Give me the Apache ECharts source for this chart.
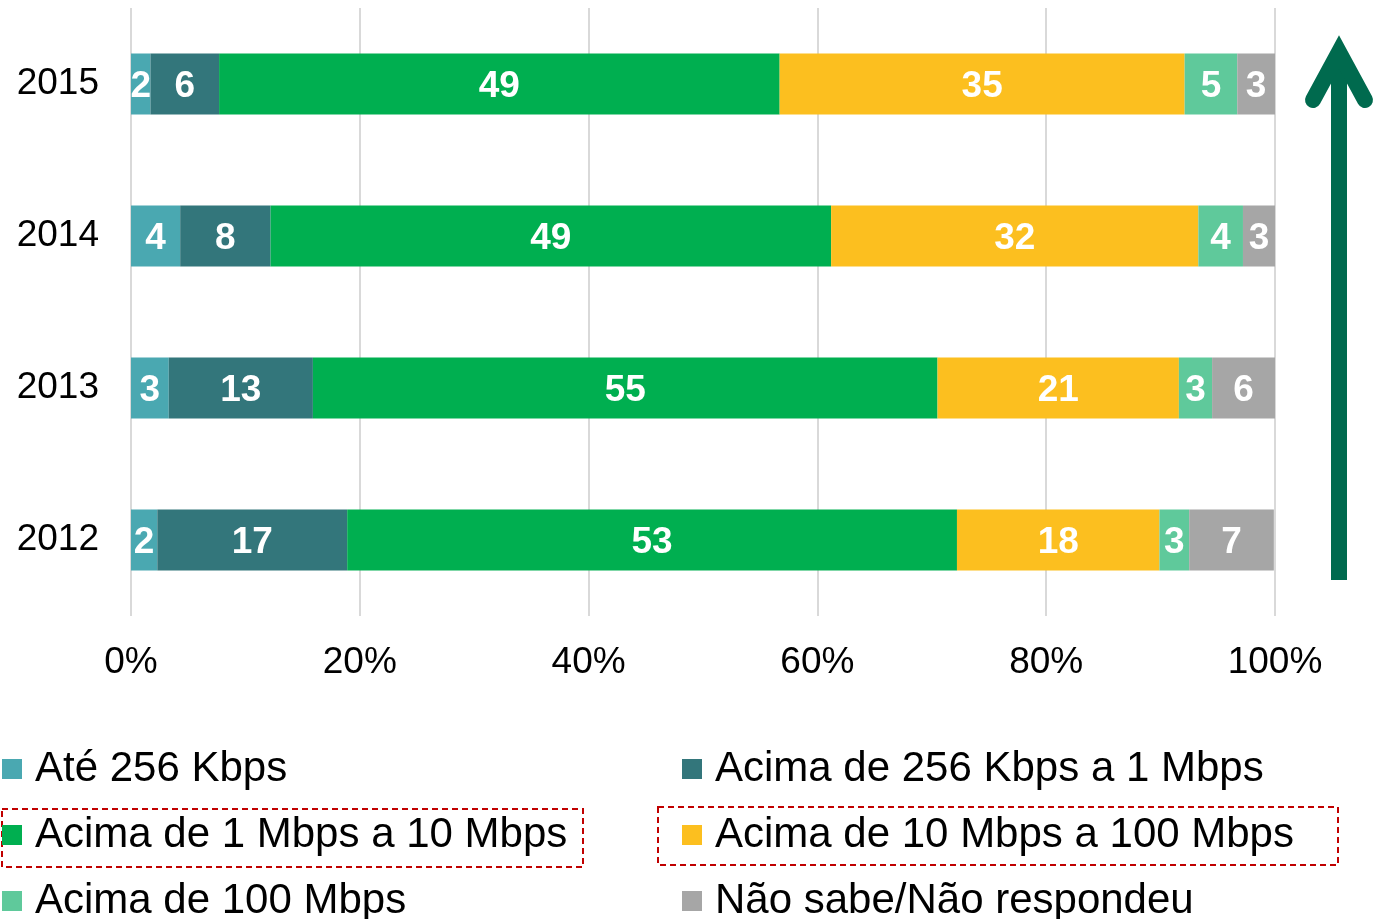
<!DOCTYPE html>
<html>
<head>
<meta charset="utf-8">
<script src="https://cdn.jsdelivr.net/npm/echarts@6/dist/echarts.min.js"></script>
<style>
  html, body { margin: 0; padding: 0; background: #fff; }
  #chart { width: 1379px; height: 919px; }
</style>
</head>
<body>
<div id="chart"></div>
<script>
// years, top to bottom
var years = ['2015', '2014', '2013', '2012'];

// shares (%) per speed band, same order as years
var ate256 = [1.7, 4.3, 3.3, 2.3];
var de256a1 = [6.0, 7.9, 12.6, 16.6];
var de1a10 = [49.0, 49.0, 54.6, 53.3];
var de10a100 = [35.4, 32.1, 21.1, 17.7];
var acima100 = [4.6, 3.9, 2.9, 2.6];
var naoSabe = [3.3, 2.8, 5.5, 7.4];

var bandNames = [
  'Até 256 Kbps',
  'Acima de 256 Kbps a 1 Mbps',
  'Acima de 1 Mbps a 10 Mbps',
  'Acima de 10 Mbps a 100 Mbps',
  'Acima de 100 Mbps',
  'Não sabe/Não respondeu'
];
var bandColors = ['#4aa8b1', '#33767b', '#00af50', '#fcbf1f', '#5fc99b', '#a6a6a6'];
var bandData = [ate256, de256a1, de1a10, de10a100, acima100, naoSabe];

var xTicks = [0, 20, 40, 60, 80, 100];

window.onload = function () {
  var chart = echarts.init(document.getElementById('chart'));
  var font = '"Liberation Sans", Arial, sans-serif';

  var series = bandNames.map(function (name, i) {
    return {
      name: name,
      type: 'bar',
      stack: 'total',
      barWidth: 61,
      color: bandColors[i],
      data: bandData[i],
      label: {
        show: true,
        position: 'inside',
        offset: [0, 3],
        color: '#fff',
        fontFamily: font,
        fontWeight: 'bold',
        fontSize: 37,
        formatter: function (p) { return Math.round(p.value); }
      }
    };
  });

  var legendBase = {
    orient: 'vertical',
    top: 748,
    height: 200,
    padding: 0,
    itemWidth: 20,
    itemHeight: 20,
    itemGap: 24,
    icon: 'rect',
    selectedMode: false,
    textStyle: { fontSize: 42, color: '#000', fontFamily: font, lineHeight: 40, padding: [0, 0, 0, 8] }
  };

  var option = {
    animation: false,
    textStyle: { fontFamily: font },
    grid: {
      left: 131,
      right: 104,
      top: 8,
      bottom: 303
    },
    xAxis: {
      type: 'value',
      min: xTicks[0],
      max: xTicks[xTicks.length - 1],
      interval: 20,
      axisLine: { show: false },
      axisTick: { show: false },
      splitLine: { lineStyle: { color: '#d9d9d9', width: 2 } },
      axisLabel: {
        formatter: '{value}%',
        color: '#000',
        fontSize: 37,
        fontFamily: font,
        margin: 28
      }
    },
    yAxis: {
      type: 'category',
      inverse: true,
      data: years,
      axisLine: { show: false },
      axisTick: { show: false },
      axisLabel: {
        color: '#000',
        fontSize: 37,
        fontFamily: font,
        margin: 32,
        padding: [6, 0, 0, 0]
      }
    },
    legend: [
      Object.assign({}, legendBase, {
        left: 2,
        data: bandNames.filter(function (n, i) { return i % 2 === 0; })
      }),
      Object.assign({}, legendBase, {
        left: 682,
        data: bandNames.filter(function (n, i) { return i % 2 === 1; })
      })
    ],
    graphic: [
      {
        type: 'rect',
        shape: { x: 2, y: 809, width: 581, height: 58 },
        style: { fill: 'none', stroke: '#c00000', lineWidth: 2, lineDash: [6, 4] }
      },
      {
        type: 'rect',
        shape: { x: 658, y: 807, width: 680, height: 58 },
        style: { fill: 'none', stroke: '#c00000', lineWidth: 2, lineDash: [6, 4] }
      },
      {
        type: 'line',
        shape: { x1: 1339, y1: 580, x2: 1339, y2: 56 },
        style: { stroke: '#006a4e', lineWidth: 16 }
      },
      {
        type: 'polyline',
        shape: { points: [[1313, 100], [1339, 52], [1365, 100]] },
        style: { stroke: '#006a4e', lineWidth: 16, lineCap: 'round', lineJoin: 'miter', fill: 'none' }
      }
    ],
    series: series
  };

  chart.setOption(option);
};
</script>
</body>
</html>
